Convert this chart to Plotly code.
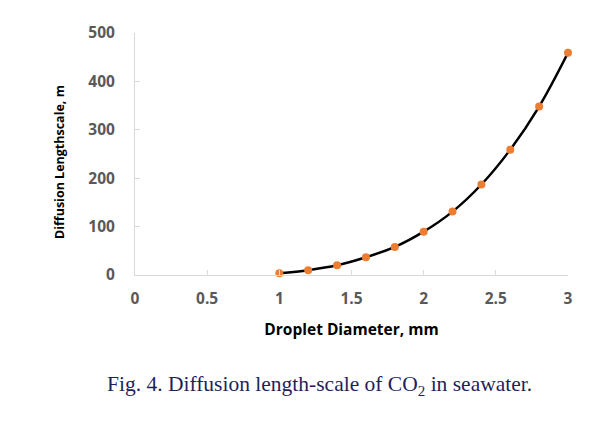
import plotly.graph_objects as go

diameter_mm = [1.0, 1.2, 1.4, 1.6, 1.8, 2.0, 2.2, 2.4, 2.6, 2.8, 3.0]
lengthscale_m = [3.5, 10, 20, 36.6, 58, 89.6, 131, 187, 259, 348, 459]

x_ticks = [0, 0.5, 1, 1.5, 2, 2.5, 3]
x_tick_text = ["0", "0.5", "1", "1.5", "2", "2.5", "3"]
y_ticks = [0, 100, 200, 300, 400, 500]

fig = go.Figure()
fig.add_trace(go.Scatter(
    x=diameter_mm, y=lengthscale_m, mode="lines+markers",
    line=dict(color="black", width=2.5, shape="spline", smoothing=1.0),
    marker=dict(color="#ED7D31", size=8),
    showlegend=False, cliponaxis=False,
))

tickfont = dict(family="Open Sans", size=15.5, color="#595959", weight="bold")
fig.update_layout(
    width=608, height=417,
    margin=dict(l=127, r=48, t=25, b=150),
    paper_bgcolor="white", plot_bgcolor="white",
    xaxis=dict(range=[0, 3], tickvals=x_ticks, ticktext=x_tick_text,
               showgrid=False, zeroline=False, showline=True,
               linecolor="#d9d9d9", linewidth=1,
               ticks="inside", ticklen=5, tickcolor="#d9d9d9",
               tickfont=tickfont, ticklabelstandoff=9,
               title=dict(text="Droplet Diameter, mm", standoff=16,
                          font=dict(family="Open Sans", size=15.5, color="black", weight="bold"))),
    yaxis=dict(range=[0, 500], tickvals=y_ticks,
               showgrid=False, zeroline=False, showline=True,
               linecolor="#d9d9d9", linewidth=1,
               ticks="inside", ticklen=5, tickcolor="#d9d9d9",
               tickfont=tickfont, ticklabelstandoff=16),
)

fig.add_annotation(
    text="Diffusion Lengthscale, m",
    xref="paper", yref="paper", x=-0.173, y=0.467, xanchor="center", yanchor="middle",
    textangle=-90, showarrow=False,
    font=dict(family="Open Sans", size=12.5, color="black", weight="bold"),
)

fig.add_annotation(
    text="Fig. 4. Diffusion length-scale of CO<sub>2</sub> in seawater.",
    xref="paper", yref="paper", x=0.425, y=-0.455, yanchor="middle", xanchor="center",
    showarrow=False,
    font=dict(family="Liberation Serif", size=21.5, color="#1f1f5c"),
)

fig.write_html("out.html")
